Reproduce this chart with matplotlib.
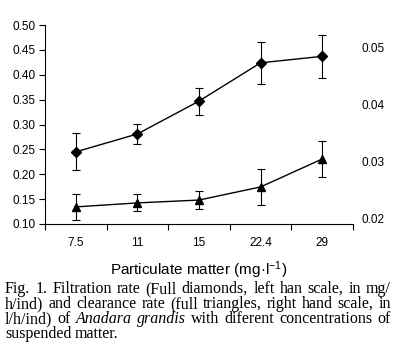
import matplotlib
matplotlib.use("Agg")
import matplotlib.pyplot as plt
import numpy as np

# data
conc = ["7.5", "11", "15", "22.4", "29"]
filtration = [0.245, 0.281, 0.347, 0.424, 0.437]      # mg/h/ind, left scale
filtration_err = [0.037, 0.020, 0.027, 0.042, 0.043]
clearance = [0.0221, 0.0228, 0.0233, 0.0256, 0.0305]  # l/h/ind, right scale
clearance_err = [0.0023, 0.0015, 0.0015, 0.0032, 0.0031]
left_ticks = [0.10, 0.15, 0.20, 0.25, 0.30, 0.35, 0.40, 0.45, 0.50]
right_ticks = [0.02, 0.03, 0.04, 0.05]

caption = [
    [("Fig. 1. Filtration rate (Full diamonds, left han scale, in mg/", "normal")],
    [("h/ind) and clearance rate (full triangles, right hand scale, in", "normal")],
    [("l/h/ind) of", "normal"), ("Anadara grandis", "italic"),
     ("with diferent concentrations of", "normal")],
    [("suspended matter.", "normal")],
]

plt.rcParams["font.family"] = ["Liberation Sans", "DejaVu Sans"]
plt.rcParams["mathtext.fontset"] = "custom"
plt.rcParams["mathtext.rm"] = "Liberation Sans"
plt.rcParams["mathtext.it"] = "Liberation Sans:italic"

W, H = 400, 360
fig = plt.figure(figsize=(4, 3.6), dpi=100)
ax = fig.add_axes([45 / W, 1 - 224 / H, (353 - 45) / W, (224 - 25) / H])
ax2 = ax.twinx()

x = np.arange(1, len(conc) + 1)

ax.errorbar(x, filtration, yerr=filtration_err, color="black", lw=1,
            marker="D", ms=5, capsize=3, elinewidth=0.8, capthick=0.8)
ax2.errorbar(x, clearance, yerr=clearance_err, color="black", lw=1,
             marker="^", ms=5.5, capsize=3, elinewidth=0.8, capthick=0.8)

ax.set_xlim(0.5, len(conc) + 0.5)
ax.set_ylim(0.10, 0.50)
ax2.set_ylim(0.0191, 0.0540)

ax.set_xticks(x)
ax.set_xticklabels(conc, fontsize=8.5)
ax.set_xticks(np.arange(0.5, len(conc) + 1), minor=True)
ax.tick_params(axis="x", which="major", length=0, pad=9)
ax.tick_params(axis="x", which="minor", length=4, width=0.8)

ax.set_yticks(left_ticks)
ax.set_yticklabels(["%.2f" % v for v in left_ticks], fontsize=8.5)
ax.tick_params(axis="y", length=4, width=0.8, pad=3)

ax2.set_yticks(right_ticks)
ax2.set_yticklabels(["%.2f" % v for v in right_ticks], fontsize=8.5)
ax2.tick_params(axis="y", length=0, pad=6)

for a in (ax, ax2):
    a.spines["top"].set_visible(False)
    a.spines["right"].set_visible(False)
ax2.spines["left"].set_visible(False)
ax2.spines["bottom"].set_visible(False)

ax.set_xlabel("Particulate matter (mg\u00b7l$^{\\mathrm{-1}}$)", fontsize=11, labelpad=8)


# caption, justified like the printed page
def put_line(y, pieces, justify, x0=5, x1=391):
    words = []
    for txt, st in pieces:
        for w in txt.split():
            words.append((w, st))
    texts = [fig.text(0, 1 - y / H, w, style=st, fontsize=11.5, va="baseline",
                      family=["Liberation Serif", "DejaVu Serif"])
             for w, st in words]
    fig.canvas.draw()
    r = fig.canvas.get_renderer()
    widths = [t.get_window_extent(r).width for t in texts]
    if justify and len(texts) > 1:
        gap = (x1 - x0 - sum(widths)) / (len(texts) - 1)
    else:
        gap = 3.5
    xx = x0
    for t, w in zip(texts, widths):
        t.set_x(xx / W)
        xx += w + gap


for i, line in enumerate(caption):
    put_line(293 + 15 * i, line, justify=(i < len(caption) - 1))

fig.savefig("out.png", dpi=100)
